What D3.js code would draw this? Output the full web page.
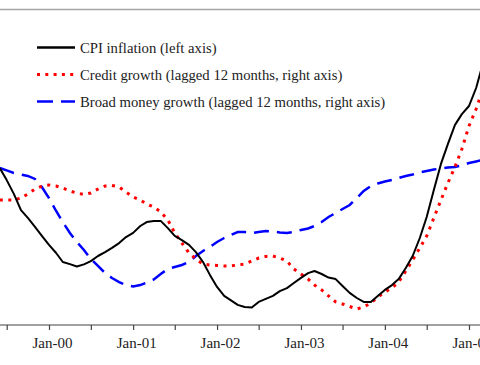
<!DOCTYPE html>
<html>
<head>
<meta charset="utf-8">
<script src="https://cdn.jsdelivr.net/npm/d3@7"></script>
<style>
  html, body { margin: 0; padding: 0; background: #fff; }
  svg { display: block; }
  text { font-family: "Liberation Serif", "Times New Roman", Times, serif; }
</style>
</head>
<body>
<svg id="chart" width="480" height="365"></svg>
<script>
// ---- data (monthly, starting Jun-1999) ----
const startYear = 1999, startMonth = 5; // June 1999 (0-based month)
const cpiInflation = [
  5.23, 4.83, 4.37, 3.83, 3.57, 3.27, 2.97, 2.67, 2.40, 2.10,
  2.03, 1.95, 2.02, 2.13, 2.30, 2.43, 2.57, 2.73, 2.93, 3.07,
  3.30, 3.43, 3.47, 3.47, 3.23, 2.97, 2.83, 2.67, 2.43, 2.10,
  1.67, 1.27, 0.97, 0.83, 0.67, 0.60, 0.58, 0.77, 0.87, 0.97,
  1.13, 1.23, 1.40, 1.57, 1.73, 1.80, 1.70, 1.58, 1.53, 1.30,
  1.07, 0.90, 0.77, 0.77, 0.97, 1.17, 1.33, 1.53, 1.90, 2.30,
  2.90, 3.60, 4.50, 5.37, 6.03, 6.67, 7.03, 7.30, 7.90, 8.67
];
const creditGrowth = [
  15.42, 15.42, 15.42, 15.58, 15.92, 16.33, 16.58, 16.67, 16.58, 16.42,
  16.17, 16.00, 15.88, 16.00, 16.33, 16.58, 16.63, 16.50, 16.08, 15.67,
  15.42, 15.08, 14.83, 14.42, 13.75, 12.67, 11.83, 11.00, 10.50, 10.08,
  10.00, 9.96, 9.92, 9.92, 10.00, 10.08, 10.33, 10.58, 10.71, 10.75,
  10.58, 10.33, 9.67, 9.25, 8.83, 8.33, 7.92, 7.42, 6.92, 6.75,
  6.54, 6.33, 6.50, 6.83, 7.33, 7.75, 8.08, 8.58, 9.50, 10.42,
  11.42, 12.42, 13.92, 15.42, 16.83, 18.17, 19.67, 21.58, 23.00, 24.58
];
const broadMoneyGrowth = [
  18.08, 17.88, 17.67, 17.54, 17.42, 17.17, 16.50, 15.58, 14.50, 13.58,
  12.67, 11.92, 11.25, 10.50, 9.92, 9.33, 8.92, 8.58, 8.33, 8.21,
  8.33, 8.54, 8.79, 9.25, 9.67, 9.83, 10.00, 10.25, 10.75, 11.17,
  11.50, 11.92, 12.25, 12.50, 12.75, 12.75, 12.67, 12.75, 12.83, 12.79,
  12.71, 12.67, 12.75, 12.92, 13.04, 13.25, 13.58, 14.00, 14.33, 14.67,
  15.00, 15.58, 16.17, 16.58, 16.79, 16.96, 17.08, 17.25, 17.42, 17.54,
  17.71, 17.83, 17.96, 18.04, 18.13, 18.17, 18.29, 18.50, 18.63, 18.75
];
const legendLabels = [
  "CPI inflation (left axis)",
  "Credit growth (lagged 12 months, right axis)",
  "Broad money growth (lagged 12 months, right axis)"
];
const tickLabelFormat = "%b-%y";

// ---- build ----
const dates = cpiInflation.map((_, i) => new Date(startYear, startMonth + i, 1));
const svg = d3.select("#chart");
const W = 480, H = 365;

const x = d3.scaleTime()
  .domain([new Date(2000, 0, 1), new Date(2005, 0, 1)])
  .range([49, 469]);
const yLeft = d3.scaleLinear().domain([0, 10]).range([325, 25]);
const yRight = d3.scaleLinear().domain([5, 30]).range([325, 25]);

// top grey rule
svg.append("line").attr("x1", 0).attr("x2", W).attr("y1", 9.5).attr("y2", 9.5)
  .attr("stroke", "#a6a6a6").attr("stroke-width", 1.5);

// x axis
const axisY = 325;
const tickDates = d3.timeMonth.every(6).range(new Date(1999, 6, 1), new Date(2005, 1, 1));
const gAx = svg.append("g").attr("transform", `translate(0,${axisY})`)
  .call(d3.axisBottom(x).tickValues(tickDates).tickSize(5).tickSizeOuter(0)
    .tickFormat(d => d.getMonth() === 0 ? d3.timeFormat(tickLabelFormat)(d) : ""));
gAx.attr("font-family", null).attr("font-size", null);
gAx.select(".domain").remove();
gAx.selectAll(".tick line").attr("stroke", "#444").attr("stroke-width", 1.2);
gAx.selectAll(".tick text")
  .style("font-family", "'Liberation Serif', 'Times New Roman', serif")
  .style("font-size", "15px").attr("fill", "#222")
  .attr("dx", 3).attr("y", 9).attr("dy", "0.95em");
svg.append("line").attr("x1", 0).attr("x2", W).attr("y1", axisY).attr("y2", axisY)
  .attr("stroke", "#444").attr("stroke-width", 1.2);

// series
svg.append("clipPath").attr("id", "plotclip")
  .append("rect").attr("x", 0).attr("y", 10).attr("width", W).attr("height", axisY - 10);

const lineL = d3.line().x((d, i) => x(dates[i])).y(d => yLeft(d));
const lineR = d3.line().x((d, i) => x(dates[i])).y(d => yRight(d));

const gPlot = svg.append("g").attr("clip-path", "url(#plotclip)");
gPlot.append("path").datum(broadMoneyGrowth).attr("d", lineR)
  .attr("fill", "none").attr("stroke", "#0000ff").attr("stroke-width", 2.5)
  .attr("stroke-dasharray", "15,8");
gPlot.append("path").datum(creditGrowth).attr("d", lineR)
  .attr("fill", "none").attr("stroke", "#ff0000").attr("stroke-width", 3)
  .attr("stroke-dasharray", "3,5.5");
gPlot.append("path").datum(cpiInflation).attr("d", lineL)
  .attr("fill", "none").attr("stroke", "#000").attr("stroke-width", 2)
  .attr("stroke-linejoin", "round");

// legend
const legendStyles = [
  { stroke: "#000", width: 2.7, dash: null },
  { stroke: "#ff0000", width: 3, dash: "3,5.3" },
  { stroke: "#0000ff", width: 2.7, dash: "16,8" }
];
const legendY = [47.5, 74.5, 101.5];
legendLabels.forEach((lab, i) => {
  const s = legendStyles[i];
  const ln = svg.append("line").attr("x1", 37).attr("x2", 75)
    .attr("y1", legendY[i]).attr("y2", legendY[i])
    .attr("stroke", s.stroke).attr("stroke-width", s.width);
  if (s.dash) ln.attr("stroke-dasharray", s.dash);
  svg.append("text").attr("x", 80).attr("y", legendY[i] + 5)
    .style("font-family", "'Liberation Serif', 'Times New Roman', serif")
    .style("font-size", "14.7px").attr("fill", "#222").text(lab);
});
</script>
</body>
</html>
